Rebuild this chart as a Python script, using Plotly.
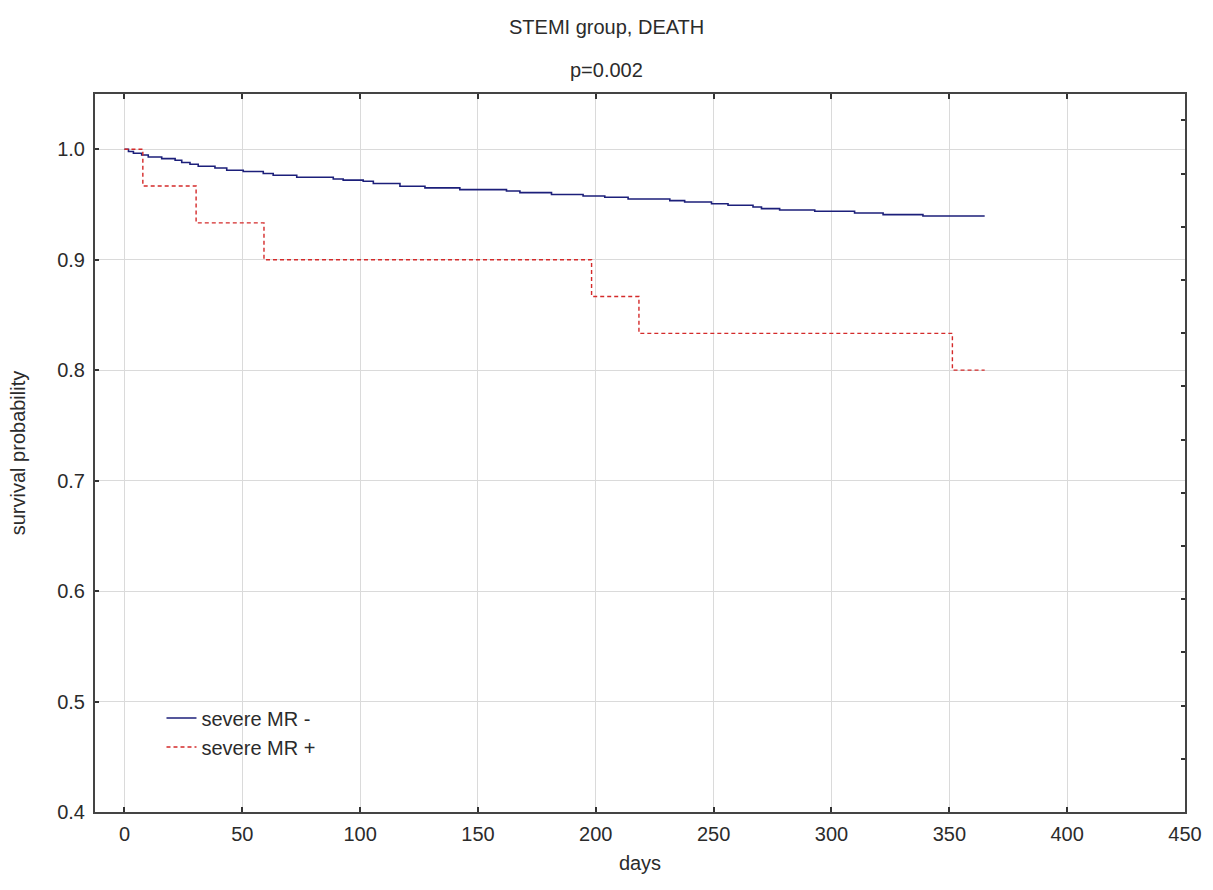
import plotly.graph_objects as go

# ---- data ----
days_mr_neg = [0, 1.7, 3.8, 7.3, 10.1, 15.8, 21.5, 24.3, 27.8, 31.3, 38.4, 43.4, 50.4,
               58.9, 63.1, 73.1, 88.6, 92.8, 101.3, 105.6, 116.9, 127.5, 142.3, 162.1,
               167.8, 181.2, 194.6, 203.8, 213.7, 231.4, 237.7, 249.1, 256.1, 266.7,
               270.3, 278.0, 292.9, 309.8, 321.9, 338.8, 365]
surv_mr_neg = [1.0, 0.998, 0.9964, 0.9948, 0.993, 0.9915, 0.990, 0.988, 0.9864, 0.9846,
               0.983, 0.981, 0.9798, 0.978, 0.9764, 0.9746, 0.973, 0.972, 0.971, 0.969,
               0.9665, 0.965, 0.9634, 0.9622, 0.9607, 0.959, 0.9577, 0.9565, 0.955,
               0.9535, 0.9522, 0.9507, 0.9493, 0.9477, 0.9462, 0.945, 0.9438, 0.9423,
               0.9408, 0.9395, 0.9395]

days_mr_pos = [0, 7.8, 30.4, 59.2, 198.2, 218.3, 351.3, 365]
surv_mr_pos = [1.0, 0.9667, 0.9333, 0.9, 0.8667, 0.8333, 0.8, 0.8]

x_ticks = [0, 50, 100, 150, 200, 250, 300, 350, 400, 450]
y_ticks = [0.4, 0.5, 0.6, 0.7, 0.8, 0.9, 1.0]
y_tick_labels = ["0.4", "0.5", "0.6", "0.7", "0.8", "0.9", "1.0"]
right_ticks = list(range(14))

series_names = ["severe MR -", "severe MR +"]
title_text = "STEMI group, DEATH"
p_text = "p=0.002"

FONT = "Liberation Sans, Arial, sans-serif"
TXT = "#2b2b2b"
FS = 20

fig = go.Figure()
fig.add_trace(go.Scatter(x=days_mr_neg, y=surv_mr_neg, mode="lines", name=series_names[0],
                         line=dict(color="#1c1f7a", width=1.6, shape="hv")))
fig.add_trace(go.Scatter(x=days_mr_pos, y=surv_mr_pos, mode="lines", name=series_names[1],
                         line=dict(color="#d42a2a", width=1.4, shape="hv", dash="4px,3px")))
# empty trace to activate the right-hand tick axis
fig.add_trace(go.Scatter(x=[], y=[], yaxis="y2", showlegend=False, hoverinfo="skip"))

fig.update_layout(
    width=1213, height=890,
    margin=dict(l=95, r=28, t=94, b=78),
    paper_bgcolor="white", plot_bgcolor="white",
    font=dict(family=FONT, size=FS, color=TXT),
    showlegend=True,
    legend=dict(x=0.061, y=0.158, xanchor="left", yanchor="top",
                bgcolor="rgba(0,0,0,0)", borderwidth=0,
                font=dict(family=FONT, size=FS, color=TXT),
                tracegroupgap=0, itemwidth=30),
    xaxis=dict(range=[-12.5, 450], tickvals=x_ticks, ticks="inside", ticklen=5,
               tickwidth=1.5, tickcolor="#333", showline=True, linecolor="#444",
               linewidth=2, mirror="ticks", showgrid=True, gridcolor="#dadada",
               gridwidth=1, zeroline=False, ticklabelstandoff=3,
               title=dict(text="days", standoff=12, font=dict(size=FS))),
    yaxis=dict(range=[0.4, 1.05], tickvals=y_ticks, ticktext=y_tick_labels,
               ticks="inside", ticklen=4, tickwidth=1.5, tickcolor="#333",
               showline=True, linecolor="#444", linewidth=2, mirror=True,
               showgrid=True, gridcolor="#dadada", gridwidth=1, zeroline=False,
               ticklabelstandoff=4,
               title=dict(text="survival probability", standoff=26, font=dict(size=FS))),
    yaxis2=dict(overlaying="y", side="right", range=[0, 718 / 53.2], tickvals=right_ticks,
                ticks="inside", ticklen=4, tickwidth=1.5, tickcolor="#333",
                showticklabels=False, showgrid=False, showline=False, zeroline=False),
    annotations=[
        dict(text=title_text, xref="paper", yref="paper", x=(606.5 - 95) / 1090,
             y=(812 - 27) / 718, xanchor="center", yanchor="middle", showarrow=False,
             font=dict(family=FONT, size=FS, color=TXT)),
        dict(text=p_text, xref="paper", yref="paper", x=(606.5 - 95) / 1090,
             y=(812 - 70) / 718, xanchor="center", yanchor="middle", showarrow=False,
             font=dict(family=FONT, size=FS, color=TXT)),
    ],
)

fig.write_html("out.html")
